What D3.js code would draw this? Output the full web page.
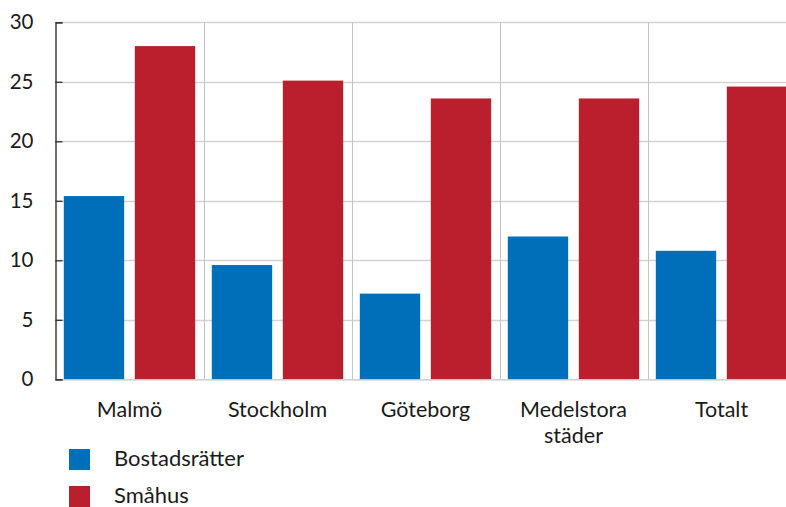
<!DOCTYPE html>
<html><head><meta charset="utf-8">
<script src="https://cdn.jsdelivr.net/npm/d3@7"></script>
<style>body{margin:0;background:#fff}svg{display:block}text{font-family:Lato,"Noto Sans",sans-serif;fill:#1a1a1a}</style>
</head><body>
<script>
const categories = [["Malmö"], ["Stockholm"], ["Göteborg"], ["Medelstora", "städer"], ["Totalt"]];
const seriesNames = ["Bostadsrätter", "Småhus"];
const bostadsratter = [15.4, 9.6, 7.2, 12.0, 10.8];
const smahus = [28.0, 25.1, 23.6, 23.6, 24.6];
const yTicks = [0, 5, 10, 15, 20, 25, 30];
const colors = ["#006fb9", "#b91f2d"];

const W = 786, H = 507;
const svg = d3.select("body").append("svg").attr("width", W).attr("height", H);
const plotLeft = 55.5, plotTop = 22.3, plotBottom = 379.3, bandW = 148;
const keys = categories.map(c => c.join(" "));
const x = d3.scaleBand().domain(keys).range([plotLeft, plotLeft + bandW * keys.length]).paddingInner(0).paddingOuter(0);
const xs = d3.scaleBand().domain(seriesNames).range([8.3, bandW - 8.3]).paddingInner(0.15).paddingOuter(0);
const y = d3.scaleLinear().domain([0, 30]).range([plotBottom, plotTop]);

// horizontal gridlines
svg.append("g").selectAll("line").data(yTicks.filter(d => d > 0)).join("line")
  .attr("x1", plotLeft).attr("x2", W).attr("y1", d => Math.round(y(d)) + 0.5).attr("y2", d => Math.round(y(d)) + 0.5)
  .attr("stroke", "#d3d3d3").attr("stroke-width", 1.3);
// vertical separators
svg.append("g").selectAll("line").data(keys.slice(1)).join("line")
  .attr("x1", d => Math.round(x(d)) + 0.5).attr("x2", d => Math.round(x(d)) + 0.5)
  .attr("y1", plotTop).attr("y2", plotBottom)
  .attr("stroke", "#c4c4c4").attr("stroke-width", 1);

// bars
const data = keys.map((k, i) => ({k, vals: [bostadsratter[i], smahus[i]]}));
const g = svg.append("g").selectAll("g").data(data).join("g").attr("transform", d => `translate(${x(d.k)},0)`);
g.selectAll("rect").data(d => d.vals.map((v, j) => ({v, s: seriesNames[j], j}))).join("rect")
  .attr("x", d => xs(d.s)).attr("width", xs.bandwidth())
  .attr("y", d => y(d.v)).attr("height", d => y(0) - y(d.v))
  .attr("fill", d => colors[d.j]);

// x baseline
svg.append("line").attr("x1", plotLeft).attr("x2", W).attr("y1", plotBottom + 0.5).attr("y2", plotBottom + 0.5)
  .attr("stroke", "#c4c4c4").attr("stroke-width", 1.3);

// y axis
const yAxis = d3.axisLeft(y).tickValues(yTicks).tickSize(-7).tickPadding(22).tickFormat(d3.format("d"));
const ya = svg.append("g").attr("transform", `translate(${plotLeft},0)`).call(yAxis);
ya.select(".domain").attr("stroke", "#222").attr("stroke-width", 1.3);
ya.selectAll(".tick line").attr("stroke", "#333").attr("stroke-width", 1.3);
ya.selectAll(".tick text").attr("font-size", 20.5).attr("fill", "#1a1a1a").style("font-family", "Lato");

// category labels
svg.append("g").selectAll("text").data(categories).join("text")
  .attr("x", (d, i) => x(keys[i]) + bandW / 2).attr("y", 417)
  .attr("text-anchor", "middle").attr("font-size", 21.5)
  .each(function(d) {
    d3.select(this).selectAll("tspan").data(d).join("tspan")
      .attr("x", d3.select(this).attr("x")).attr("dy", (t, j) => j === 0 ? 0 : 26).text(t => t);
  });

// legend
const lg = svg.append("g").selectAll("g").data(seriesNames).join("g")
  .attr("transform", (d, i) => `translate(69,${449 + i * 37})`);
lg.append("rect").attr("width", 21).attr("height", 21).attr("fill", (d, i) => colors[i]);
lg.append("text").attr("x", 45).attr("y", 17).attr("font-size", 22).text(d => d);
</script>
</body></html>
